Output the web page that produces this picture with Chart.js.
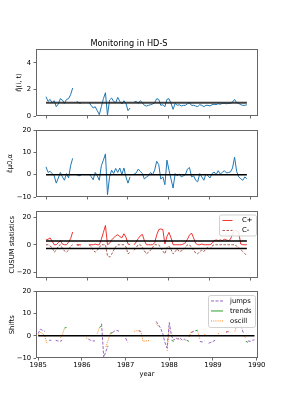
<!DOCTYPE html>
<html><head><meta charset="utf-8">
<script src="https://cdn.jsdelivr.net/npm/chart.js@4.4.0/dist/chart.umd.min.js"></script>
<style>
html,body{margin:0;padding:0;background:#fff;width:287px;height:410px;overflow:hidden;position:relative;}
canvas{position:absolute;left:0;}
</style></head><body>
<canvas id="c1" width="287" height="125" style="top:0px;width:287px;height:125px"></canvas>
<canvas id="c2" width="287" height="85" style="top:120px;width:287px;height:85px"></canvas>
<canvas id="c3" width="287" height="80" style="top:205px;width:287px;height:80px"></canvas>
<canvas id="c4" width="287" height="110" style="top:285px;width:287px;height:110px"></canvas>
<script>
// ---------------- DATA ----------------
const years = [
1985.00,1985.05,1985.10,1985.15,1985.20,1985.25,1985.30,1985.35,1985.40,1985.45,
1985.50,1985.55,1985.60,1985.65,1985.70,1985.75,1985.80,1985.85,1985.90,1985.95,
1986.00,1986.05,1986.10,1986.15,1986.20,1986.25,1986.30,1986.35,1986.40,1986.45,
1986.50,1986.55,1986.60,1986.65,1986.70,1986.75,1986.80,1986.85,1986.90,1986.95,
1987.00,1987.05,1987.10,1987.15,1987.20,1987.25,1987.30,1987.35,1987.40,1987.45,
1987.50,1987.55,1987.60,1987.65,1987.70,1987.75,1987.80,1987.85,1987.90,1987.95,
1988.00,1988.05,1988.10,1988.15,1988.20,1988.25,1988.30,1988.35,1988.40,1988.45,
1988.50,1988.55,1988.60,1988.65,1988.70,1988.75,1988.80,1988.85,1988.90,1988.95,
1989.00,1989.05,1989.10,1989.15,1989.20,1989.25,1989.30,1989.35,1989.40,1989.45,
1989.50,1989.55,1989.60,1989.65,1989.70,1989.75,1989.80,1989.85,1989.90,1989.95];

// panel 1: eta hat
const etaHat = [
1.45,1.1,1.25,1.0,1.15,0.7,0.9,1.3,1.2,0.95,
1.25,1.3,1.6,2.1,null,1.1,1.0,0.95,null,null,
null,1.0,0.8,0.6,0.7,0.4,0.1,0.7,1.3,1.75,
0.05,1.2,1.35,1.1,1.0,1.4,1.1,0.9,1.15,0.95,
0.4,0.6,null,1.05,1.1,0.95,1.15,1.0,0.8,0.75,
0.8,0.85,0.9,1.0,1.3,1.25,0.8,0.85,0.7,1.25,
1.3,0.95,0.5,0.95,0.8,0.85,0.75,0.8,0.8,0.92,
1.0,0.8,0.8,0.75,0.7,0.85,0.8,0.7,0.8,0.8,
0.75,0.85,0.88,0.85,0.92,0.88,0.95,0.95,0.92,0.95,
0.95,1.05,1.25,1.0,0.95,0.85,0.8,0.8,0.85,null];
const etaRef = 1;

// panel 2: eps hat
const epsHat = [
3.5,1.0,1.5,0.5,-0.5,-3.8,-1.5,1.0,-1.0,-2.5,
0.5,-1.5,4.0,7.3,null,0.0,-0.5,-0.3,null,null,
null,0.3,-0.8,-2.3,1.0,-0.5,-2.5,4.0,6.5,9.3,
-9.0,-1.0,2.0,0.5,2.8,1.0,3.0,0.0,3.0,-1.0,
-3.8,-1.0,null,0.3,0.8,2.5,1.5,0.5,-2.0,-1.0,
-0.5,1.0,0.0,2.0,6.0,4.5,-2.0,-1.0,-4.5,6.5,
2.0,-2.0,-6.0,0.5,-0.5,0.3,-1.0,-0.5,0.0,2.5,
3.2,-1.0,-0.5,-2.5,-3.2,0.5,-1.0,-2.5,0.3,-0.5,
-1.5,0.5,1.2,0.0,1.8,0.3,1.0,1.8,0.8,1.0,
1.2,3.0,7.8,1.5,-1.0,-1.8,-2.5,-1.0,-1.8,null];
const epsRef = 0;

// panel 3: CUSUM
const cPlus = [
3.5,4.0,5.0,2.5,0,0,1.5,3.0,0.5,0,
0,2.0,4.4,9.3,null,0,0,0,null,null,
null,0,0,0,0.5,0,0,4.0,9.0,14.0,
0,1.0,3.5,5.0,6.5,7.3,6.0,5.0,8.0,5.5,
0.5,0,null,0,2.0,4.5,6.5,7.5,3.0,0,
0,0,0,1.5,7.0,11.0,11.5,11.0,0.5,6.0,
9.0,5.0,0,0,0,0,0,0.5,1.5,4.0,
7.0,8.5,5.0,1.0,0,0,0.5,0,0,0,
0,1.0,3.0,3.5,3.0,3.5,3.0,4.0,3.5,3.0,
4.0,8.0,10.5,10.0,9.0,0.5,0,0,0,null];
const cMinus = [
0,0,-1.0,-2.0,-5.4,-4.0,-1.0,0,-2.5,-4.5,
-5.4,-4.0,-1.0,0,null,0,-0.5,-1.0,null,null,
null,0,-1.5,-4.0,-5.4,-4.0,-2.0,0,0,0,
-8.0,-9.0,-7.0,-4.0,-1.5,0,0,0,0,-1.5,
-6.6,-5.5,null,-4.0,-2.0,0,0,-2.0,-4.5,-6.6,
-5.5,-4.0,-2.0,0,0,0,-2.5,-4.5,-6.6,-2.0,
-1.0,-3.5,-6.6,-5.0,-3.0,-5.0,-4.5,-3.5,-2.0,0,
0,-2.0,-4.0,-6.0,-6.6,-5.0,-4.0,-5.0,-3.0,-2.0,
-3.0,-1.0,0,0,0,0,0,0,0,0,
0,0,0,-1.0,-2.0,-3.5,-5.0,-6.5,-8.0,null];
const cusumLimit = 2.7;

// panel 4: shifts
const jumps = [
1.0,3.0,2.5,2.0,null,-2.0,-2.0,null,-2.0,-2.3,
-2.5,-2.0,null,null,null,null,null,null,null,null,
null,null,null,-1.5,-2.0,-2.3,-2.3,null,null,5.5,
-9.8,-7.0,-4.5,null,1.5,2.2,2.5,2.0,null,null,
-1.0,-3.0,null,null,null,null,2.3,2.0,null,null,
null,null,null,null,6.5,5.0,3.5,1.0,-3.0,-5.5,
6.0,0.0,-2.0,-1.0,-1.5,-1.0,-2.0,-1.5,-2.5,null,
1.5,2.0,2.5,null,-2.5,-2.8,-2.3,null,-3.3,-3.0,
-2.5,-2.0,null,null,null,null,1.5,2.0,1.8,null,
null,null,6.5,4.0,1.0,null,-2.3,-2.5,-2.0,-1.8];
const trends = [
null,null,null,null,null,null,null,null,null,null,
null,null,3.5,3.8,null,null,null,null,null,null,
null,null,null,null,null,null,null,null,3.8,4.4,
null,null,null,1.2,1.4,null,null,null,null,null,
null,null,null,null,null,null,null,null,null,null,
null,null,null,null,null,null,null,null,null,null,
null,-2.0,-2.5,null,null,null,null,null,-2.0,-2.5,
null,null,2.3,2.5,null,null,null,null,null,null,
null,null,null,null,null,null,null,null,null,null,
null,6.0,7.0,null,null,-2.5,-2.9,null,null,null];
const oscill = [
0.5,1.5,1.0,0.0,-3.3,null,null,null,null,null,
-1.0,0.0,3.5,null,null,null,null,null,null,null,
null,null,-1.0,-1.5,null,null,null,1.0,3.5,null,
null,-5.0,-2.0,1.0,1.5,null,null,null,null,null,
null,null,null,null,2.0,2.3,2.3,2.0,-2.5,-2.3,
-2.3,-2.0,null,null,5.5,4.0,null,null,null,-6.8,
4.0,null,null,null,-1.0,-2.0,null,null,null,-0.5,
1.7,1.8,null,2.0,-1.5,null,0.5,0.5,null,null,
null,null,0.0,1.8,null,null,2.0,1.5,null,null,
2.0,5.5,null,null,0.0,-1.0,null,null,null,null];
const shiftRef = 0;

const xTickYears = [1985,1986,1987,1988,1989,1990];
const yTicks1 = [0,2,4];
const yTicks2 = [-10,0,10,20];
const yTicks3 = [-20,0,20];
const yTicks4 = [-10,0,10,20];

// ---------------- HELPERS ----------------
const FONT = "'DejaVu Sans', sans-serif";
const pts = arr => years.map((t,i) => ({x:t, y:arr[i]}));
const span = arr => { const v = years.filter((t,i)=>arr[i]!==null); return [v[0], v[v.length-1]]; };
const hline = (x0x1, y) => [{x:x0x1[0], y:y},{x:x0x1[1], y:y}];
const fmt = v => String(v).replace('-', '\u2212');

const framePlugin = {
  id:'frame',
  afterDraw(chart){
    const {ctx, chartArea:a} = chart;
    ctx.save();
    ctx.strokeStyle = '#666'; ctx.lineWidth = 1;
    ctx.strokeRect(Math.round(a.left)+0.5, Math.round(a.top)+0.5, Math.round(a.right-a.left)-1, Math.round(a.bottom-a.top)-1);
    ctx.restore();
  }
};
const boxLegend = {
  id:'boxLegend',
  afterDatasetsDraw(chart, args, o){
    if (!o || !o.items) return;
    const {ctx, chartArea:a} = chart;
    const x0 = a.right - o.offsetRight - o.width, y0 = a.top + o.offsetTop;
    ctx.save();
    ctx.fillStyle = 'rgba(255,255,255,0.85)';
    ctx.strokeStyle = '#d0d0d0'; ctx.lineWidth = 1;
    ctx.beginPath();
    if (ctx.roundRect) ctx.roundRect(x0+0.5, y0+0.5, o.width, o.height, 2); else ctx.rect(x0+0.5, y0+0.5, o.width, o.height);
    ctx.fill(); ctx.stroke();
    o.items.forEach((idx,k) => {
      const ds = chart.data.datasets[idx];
      const y = y0 + o.firstRow + k*o.rowGap;
      ctx.strokeStyle = ds.borderColor; ctx.lineWidth = ds.borderWidth;
      ctx.setLineDash(ds.borderDash || []);
      ctx.beginPath(); ctx.moveTo(x0+o.lineStart, y); ctx.lineTo(x0+o.lineStart+o.lineLen, y); ctx.stroke();
      ctx.setLineDash([]);
      ctx.fillStyle = '#000'; ctx.font = '6.8px ' + FONT; ctx.textBaseline = 'middle'; ctx.textAlign = 'left';
      ctx.fillText(ds.label, x0+o.textStart, y);
    });
    ctx.restore();
  }
};

function gridOpts(){ return {display:true, drawOnChartArea:false, drawTicks:true, tickLength:2.5, color:'#444', lineWidth:0.8}; }

function makeChart(id, o){
  return new Chart(document.getElementById(id), {
    type:'line',
    data:{datasets:o.datasets},
    plugins:[framePlugin, boxLegend],
    options:{
      responsive:false, animation:false, devicePixelRatio:1,
      layout:{padding:{top:o.padTop, left:0, right:29, bottom:o.padBottom||0}},
      elements:{point:{radius:0}, line:{tension:0, borderWidth:1}},
      plugins:{
        legend:{display:false}, tooltip:{enabled:false},
        title:{display:!!o.title, text:o.title, color:'#000', font:{family:FONT, size:8.2, weight:'normal', lineHeight:1.2}, padding:{top:0,bottom:0}},
        boxLegend:o.legend || {}
      },
      scales:{
        x:{
          type:'linear', min:o.xMin, max:o.xMax,
          afterBuildTicks:a => { a.ticks = xTickYears.map(v=>({value:v})); },
          afterFit:a => { a.height = o.xHeight; },
          grid:gridOpts(), border:{display:false},
          ticks:{display:!!o.xLabels, padding:1, color:'#000', font:{family:FONT,size:6.8}, maxRotation:0, autoSkip:false, callback:v => String(v)},
          title:{display:!!o.xTitle, text:o.xTitle||'', color:'#000', font:{family:FONT,size:6.8}, padding:{top:0,bottom:0}}
        },
        y:{
          type:'linear', min:o.yMin, max:o.yMax,
          afterBuildTicks:a => { a.ticks = o.yTicks.map(v=>({value:v})); },
          afterFit:a => { a.width = 36; },
          grid:gridOpts(), border:{display:false},
          ticks:{padding:2.4, color:'#000', font:{family:FONT,size:6.8}, autoSkip:false, callback:v => fmt(v)},
          title:{display:true, text:o.yTitle, color:'#000', font:{family:FONT,size:6.8}, padding:{top:o.yTitlePad,bottom:0}}
        }
      }
    }
  });
}

const X13 = {xMin:1984.756, xMax:1990.171};
const lineDS = (label, data, color, width, dash) => ({label, data, borderColor:color, backgroundColor:color, borderWidth:width, borderDash:dash||[], pointRadius:0, spanGaps:false, fill:false});

// Panel 1
makeChart('c1', Object.assign({}, X13, {
  title:'Monitoring in HD-S', padTop:39.1, xHeight:9,
  yMin:0, yMax:5.04, yTicks:yTicks1, yTitle:'\u03B7\u0303\u0302(i, t)', yTitlePad:15.4,
  datasets:[
    lineDS('level', hline(span(etaHat), etaRef), 'rgba(30,30,30,0.85)', 2),
    lineDS('eta', pts(etaHat), '#1f77b4', 1)
  ]
}));
// Panel 2
makeChart('c2', Object.assign({}, X13, {
  padTop:10, xHeight:8,
  yMin:-10, yMax:20, yTicks:yTicks2, yTitle:'\u03B5\u0302\u03BC0,\u03B1', yTitlePad:6.4,
  datasets:[
    lineDS('zero', hline(span(epsHat), epsRef), '#000', 1.5),
    lineDS('eps', pts(epsHat), '#1f77b4', 1)
  ]
}));
// Panel 3
makeChart('c3', Object.assign({}, X13, {
  padTop:6, xHeight:7,
  yMin:-24.2, yMax:24.2, yTicks:yTicks3, yTitle:'CUSUM statistics', yTitlePad:7.9,
  legend:{items:[2,3], width:37, height:21, offsetRight:2, offsetTop:3, firstRow:6, rowGap:10, lineStart:3.5, lineLen:10, textStart:23},
  datasets:[
    lineDS('h+', hline(span(cPlus), cusumLimit), '#000', 1.5),
    lineDS('h-', hline(span(cPlus), -cusumLimit), '#000', 1.5),
    lineDS('C+', pts(cPlus), '#ee1c1c', 0.9),
    lineDS('C-', pts(cMinus), '#a0453a', 0.9, [2.5,1.5])
  ]
}));
// Panel 4
makeChart('c4', {
  xMin:1984.95, xMax:1990.03, padTop:6, padBottom:16.9, xHeight:20.1, xLabels:true, xTitle:'year',
  yMin:-10, yMax:20, yTicks:yTicks4, yTitle:'Shifts', yTitlePad:7.9,
  legend:{items:[1,2,3], width:47, height:32, offsetRight:3, offsetTop:3.5, firstRow:6, rowGap:10, lineStart:3, lineLen:12, textStart:22},
  datasets:[
    lineDS('zero', hline([years[0], years[years.length-1]], shiftRef), '#000', 1.5),
    lineDS('jumps', pts(jumps), '#9467bd', 1, [3,1.5]),
    lineDS('trends', pts(trends), '#2ca02c', 1),
    lineDS('oscill', pts(oscill), '#ff7f0e', 1, [1,1.2])
  ]
});
</script>
</body></html>
